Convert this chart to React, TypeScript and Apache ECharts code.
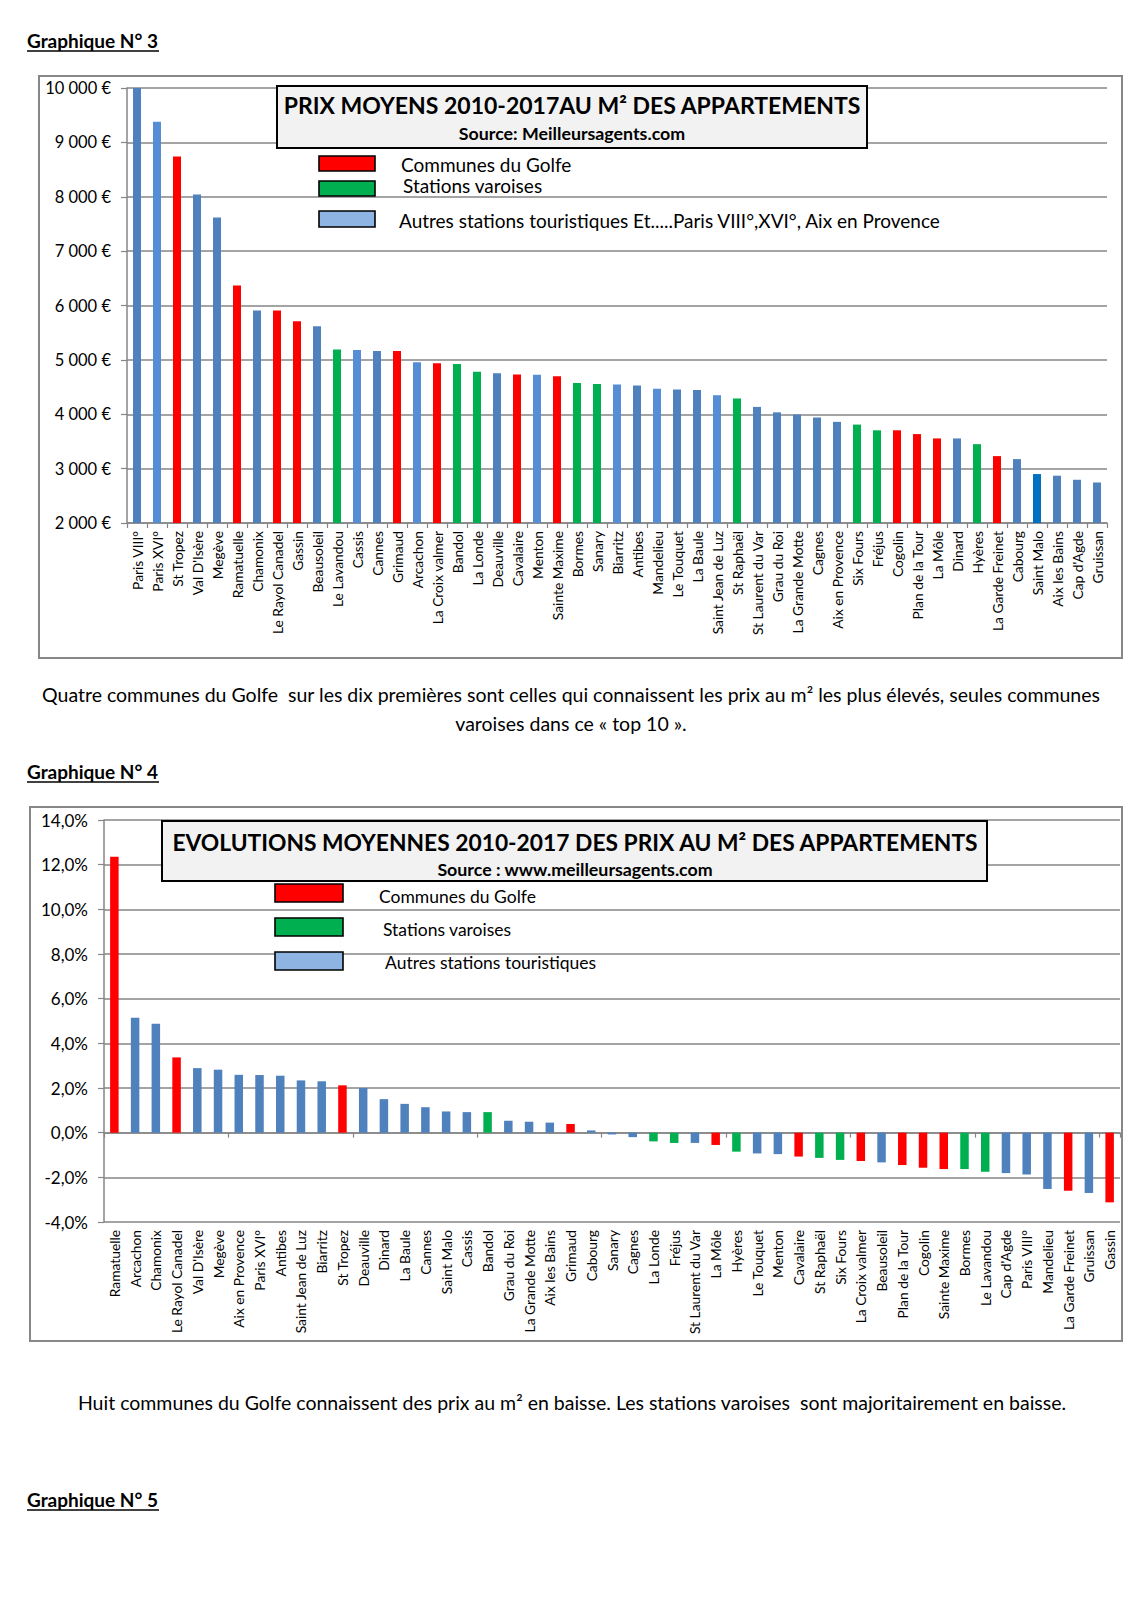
import { useEffect, useRef } from "react";
import * as echarts from "echarts";

// ---------- DATA : Graphique N° 3 (prix moyens au m²) ----------
const categories1 = [
  "Paris VIII°", "Paris XVI°", "St Tropez", "Val D'Isère", "Megève", "Ramatuelle", "Chamonix",
  "Le Rayol Canadel", "Gassin", "Beausoleil", "Le Lavandou", "Cassis", "Cannes", "Grimaud",
  "Arcachon", "La Croix valmer", "Bandol", "La Londe", "Deauville", "Cavalaire", "Menton",
  "Sainte Maxime", "Bormes", "Sanary", "Biarritz", "Antibes", "Mandelieu", "Le Touquet",
  "La Baule", "Saint Jean de Luz", "St Raphaël", "St Laurent du Var", "Grau du Roi",
  "La Grande Motte", "Cagnes", "Aix en Provence", "Six Fours", "Fréjus", "Cogolin",
  "Plan de la Tour", "La Môle", "Dinard", "Hyères", "La Garde Freinet", "Cabourg",
  "Saint Malo", "Aix les Bains", "Cap d'Agde", "Gruissan",
];
const values1 = [
  10000, 9380, 8740, 8040, 7620, 6370, 5910,
  5910, 5710, 5620, 5190, 5180, 5165, 5165,
  4955, 4940, 4925, 4780, 4755, 4730, 4725,
  4700, 4575, 4555, 4545, 4530, 4470, 4455,
  4445, 4350, 4290, 4135, 4035,
  3995, 3940, 3860, 3810, 3705, 3705,
  3635, 3555, 3555, 3450, 3230, 3175,
  2900, 2870, 2795, 2745,
];
// G = Communes du Golfe, V = Stations varoises, A = Autres stations touristiques
const groups1 = [
  "A", "A", "G", "A", "A", "G", "A",
  "G", "G", "A", "V", "A", "A", "G",
  "A", "G", "V", "V", "A", "G", "A",
  "G", "V", "V", "A", "A", "A", "A",
  "A", "A", "V", "A", "A",
  "A", "A", "A", "V", "V", "G",
  "G", "G", "A", "V", "G", "A",
  "A", "A", "A", "A",
];
const yTicks1 = { min: 2000, max: 10000, interval: 1000 };

// ---------- DATA : Graphique N° 4 (évolutions moyennes) ----------
const categories2 = [
  "Ramatuelle", "Arcachon", "Chamonix", "Le Rayol Canadel", "Val D'Isère", "Megève",
  "Aix en Provence", "Paris XVI°", "Antibes", "Saint Jean de Luz", "Biarritz", "St Tropez",
  "Deauville", "Dinard", "La Baule", "Cannes", "Saint Malo", "Cassis", "Bandol",
  "Grau du Roi", "La Grande Motte", "Aix les Bains", "Grimaud", "Cabourg", "Sanary",
  "Cagnes", "La Londe", "Fréjus", "St Laurent du Var", "La Môle", "Hyères", "Le Touquet",
  "Menton", "Cavalaire", "St Raphaël", "Six Fours", "La Croix valmer", "Beausoleil",
  "Plan de la Tour", "Cogolin", "Sainte Maxime", "Bormes", "Le Lavandou", "Cap d'Agde",
  "Paris VIII°", "Mandelieu", "La Garde Freinet", "Gruissan", "Gassin",
];
const values2 = [
  12.35, 5.15, 4.88, 3.37, 2.89, 2.82,
  2.59, 2.58, 2.55, 2.34, 2.3, 2.12,
  2.0, 1.5, 1.29, 1.14, 0.95, 0.92, 0.92,
  0.53, 0.49, 0.45, 0.39, 0.1, -0.08,
  -0.2, -0.39, -0.46, -0.46, -0.55, -0.85, -0.93,
  -0.96, -1.07, -1.13, -1.22, -1.27, -1.33,
  -1.45, -1.57, -1.63, -1.63, -1.75, -1.81,
  -1.87, -2.52, -2.6, -2.7, -3.12,
];
const groups2 = [
  "G", "A", "A", "G", "A", "A",
  "A", "A", "A", "A", "A", "G",
  "A", "A", "A", "A", "A", "A", "V",
  "A", "A", "A", "G", "A", "A",
  "A", "V", "V", "A", "G", "V", "A",
  "A", "G", "V", "V", "G", "A",
  "G", "G", "G", "V", "V", "A",
  "A", "A", "G", "A", "G",
];
const yTicks2 = { min: -4, max: 14, interval: 2 };

// ---------- TEXTS ----------
const heading3 = "Graphique N° 3";
const heading4 = "Graphique N° 4";
const heading5 = "Graphique N° 5";
const title1 = "PRIX MOYENS 2010-2017AU M² DES APPARTEMENTS";
const source1 = "Source: Meilleursagents.com";
const legend1 = [
  "Communes du Golfe",
  "Stations varoises",
  "Autres stations touristiques Et.....Paris VIII°,XVI°, Aix en Provence",
];
const title2 = "EVOLUTIONS MOYENNES 2010-2017 DES PRIX AU M² DES APPARTEMENTS";
const source2 = "Source : www.meilleursagents.com";
const legend2 = ["Communes du Golfe", "Stations varoises", "Autres stations touristiques"];
const para1 = [
  "Quatre communes du Golfe  sur les dix premières sont celles qui connaissent les prix au m² les plus élevés, seules communes",
  "varoises dans ce « top 10 ».",
];
const para2 =
  "Huit communes du Golfe connaissent des prix au m² en baisse. Les stations varoises  sont majoritairement en baisse.";

// ---------- STYLES ----------
const FONT = "Lato, 'Open Sans', sans-serif";
const GRAY = "#868686";
const GROUP_COLORS: Record<string, string> = { G: "#FF0000", V: "#00B050", A: "#4F81BD" };
const LEGEND_COLORS = ["#FF0000", "#00B050", "#8DB4E2"];
const LIGHT_BLUE_1 = ["Paris XVI°", "Cassis", "Arcachon", "Menton", "Biarritz", "Mandelieu", "Saint Jean de Luz"];
const BRIGHT_BLUE_1 = ["Saint Malo"];

function barColor1(i: number) {
  const c = categories1[i];
  if (groups1[i] === "A") {
    if (LIGHT_BLUE_1.includes(c)) return "#558ED5";
    if (BRIGHT_BLUE_1.includes(c)) return "#0070C0";
  }
  return GROUP_COLORS[groups1[i]];
}

const fmtEuro = (v: number) => `${Math.round(v / 1000)} 000 €`;
const fmtPct = (v: number) => `${v.toFixed(1).replace(".", ",")}%`;

function txt(x: number, y: number, text: string, font: string, align = "left") {
  return {
    type: "text",
    x,
    y,
    z: 120,
    silent: true,
    style: {
      text,
      font,
      fill: "#000",
      align,
      verticalAlign: "middle",
      textAlign: align,
      textVerticalAlign: "middle",
    },
  };
}
function rect(x: number, y: number, w: number, h: number, fill: string, stroke: string, lw: number, z = 110) {
  return {
    type: "rect",
    z,
    silent: true,
    shape: { x, y, width: w, height: h },
    style: { fill, stroke, lineWidth: lw },
  };
}
function line(x1: number, y1: number, x2: number, y2: number, stroke = "#000", lw = 1.4) {
  return { type: "line", z: 120, silent: true, shape: { x1, y1, x2, y2 }, style: { stroke, lineWidth: lw } };
}

function heading(y: number, text: string) {
  return [txt(27, y, text, `bold 19px ${FONT}`), line(27, y + 11, 159, y + 11, "#000", 1.4)];
}

function buildOption() {
  const catLabel = {
    rotate: 90,
    interval: 0,
    fontSize: 13.8,
    color: "#000",
    fontFamily: FONT,
    margin: 8,
  };
  const legendFont1 = `19px ${FONT}`;
  const legendFont2 = `17.5px ${FONT}`;
  const paraFont = `19.5px ${FONT}`;

  const graphic: any[] = [
    // page headings
    ...heading(40, heading3),
    ...heading(771, heading4),
    ...heading(1499, heading5),
    // chart frames
    rect(39, 76, 1083, 582, "none", "#878787", 2, 1),
    rect(30, 807, 1092, 534, "none", "#878787", 2, 1),
    // chart 1 title box
    rect(277, 86, 590, 62, "#F2F2F2", "#000", 2),
    txt(572, 105, title1, `bold 23px ${FONT}`, "center"),
    txt(572, 133, source1, `bold 17.8px ${FONT}`, "center"),
    // chart 1 legend
    rect(319, 156, 56, 15, LEGEND_COLORS[0], "#000", 1.6),
    rect(319, 181, 56, 15, LEGEND_COLORS[1], "#000", 1.6),
    rect(319, 211, 56, 16, LEGEND_COLORS[2], "#000", 1.6),
    txt(401, 164, legend1[0], legendFont1),
    txt(403, 185, legend1[1], legendFont1),
    txt(399, 220, legend1[2], legendFont1),
    // paragraph 1
    txt(571, 694, para1[0], paraFont, "center"),
    txt(571, 723, para1[1], paraFont, "center"),
    // chart 2 title box
    rect(162, 821, 825, 60, "#F2F2F2", "#000", 2),
    txt(575, 842, title2, `bold 22.8px ${FONT}`, "center"),
    txt(575, 869, source2, `bold 17.8px ${FONT}`, "center"),
    // chart 2 legend
    rect(275, 884, 68, 18, LEGEND_COLORS[0], "#000", 1.6),
    rect(275, 918, 68, 18, LEGEND_COLORS[1], "#000", 1.6),
    rect(275, 952, 68, 18, LEGEND_COLORS[2], "#000", 1.6),
    txt(379, 896, legend2[0], legendFont2),
    txt(383, 929, legend2[1], legendFont2),
    txt(385, 962, legend2[2], legendFont2),
    // paragraph 2
    txt(572, 1402, para2, paraFont, "center"),
  ];

  return {
    animation: false,
    backgroundColor: "#ffffff",
    textStyle: { fontFamily: FONT },
    grid: [
      { left: 127, top: 88, width: 980, height: 435, containLabel: false },
      { left: 104, top: 820, width: 1016, height: 402, containLabel: false },
    ],
    xAxis: [
      {
        gridIndex: 0,
        type: "category",
        data: categories1,
        axisLine: { onZero: false, lineStyle: { color: GRAY, width: 1.5 } },
        axisTick: { show: true, length: 5, lineStyle: { color: GRAY, width: 1.2 } },
        axisLabel: catLabel,
      },
      {
        gridIndex: 1,
        type: "category",
        position: "bottom",
        data: categories2,
        axisLine: { show: false, onZero: false },
        axisTick: { show: false },
        axisLabel: catLabel,
      },
      {
        gridIndex: 1,
        type: "category",
        position: "bottom",
        data: categories2,
        axisLine: { show: true, onZero: true, lineStyle: { color: GRAY, width: 1.5 } },
        axisTick: { show: true, length: 5, lineStyle: { color: GRAY, width: 1.2 } },
        axisLabel: { show: false },
      },
    ],
    yAxis: [
      {
        gridIndex: 0,
        type: "value",
        min: yTicks1.min,
        max: yTicks1.max,
        interval: yTicks1.interval,
        axisLine: { show: true, lineStyle: { color: GRAY, width: 1.5 } },
        axisTick: { show: true, length: 6, lineStyle: { color: GRAY, width: 1.2 } },
        splitLine: { show: true, lineStyle: { color: GRAY, width: 1.5 } },
        axisLabel: { formatter: fmtEuro, fontSize: 16.5, color: "#000", fontFamily: FONT, margin: 16 },
      },
      {
        gridIndex: 1,
        type: "value",
        min: yTicks2.min,
        max: yTicks2.max,
        interval: yTicks2.interval,
        axisLine: { show: true, lineStyle: { color: GRAY, width: 1.5 } },
        axisTick: { show: true, length: 6, lineStyle: { color: GRAY, width: 1.2 } },
        splitLine: { show: true, lineStyle: { color: GRAY, width: 1.5 } },
        axisLabel: { formatter: fmtPct, fontSize: 17, color: "#000", fontFamily: FONT, margin: 16 },
      },
    ],
    series: [
      {
        type: "bar",
        xAxisIndex: 0,
        yAxisIndex: 0,
        barWidth: 8,
        data: values1.map((v, i) => ({ value: v, itemStyle: { color: barColor1(i) } })),
      },
      {
        type: "bar",
        xAxisIndex: 1,
        yAxisIndex: 1,
        barWidth: 8.5,
        data: values2.map((v, i) => ({ value: v, itemStyle: { color: GROUP_COLORS[groups2[i]] } })),
      },
    ],
    graphic,
  };
}

export default function App() {
  const ref = useRef<HTMLDivElement>(null);
  useEffect(() => {
    if (!ref.current) return;
    const chart = echarts.init(ref.current, undefined, { renderer: "svg" });
    chart.setOption(buildOption() as any);
    return () => chart.dispose();
  }, []);
  return (
    <div
      ref={ref}
      style={{ position: "absolute", left: 0, top: 0, width: 1131, height: 1600, background: "#fff" }}
    />
  );
}
